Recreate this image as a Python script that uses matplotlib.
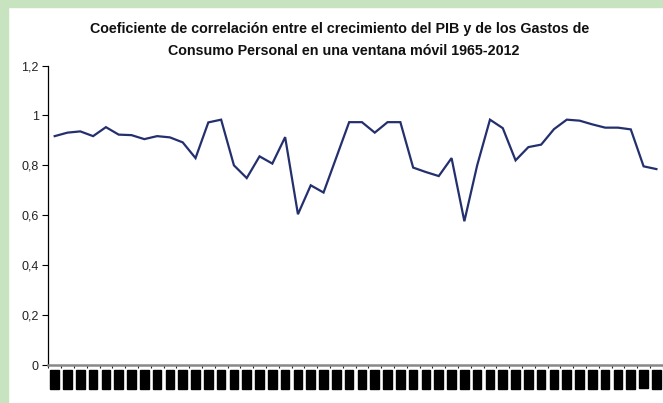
import numpy as np
import matplotlib.pyplot as plt
from matplotlib.patches import Rectangle

plt.rcParams['font.family'] = ['Liberation Sans', 'DejaVu Sans']

years = list(range(1965, 2013))
correlacion = [0.917, 0.931, 0.936, 0.917, 0.953, 0.923, 0.921, 0.905, 0.917, 0.912,
               0.892, 0.829, 0.972, 0.983, 0.800, 0.749, 0.836, 0.807, 0.913, 0.604,
               0.720, 0.691, 0.832, 0.973, 0.973, 0.931, 0.973, 0.973, 0.791, 0.773,
               0.757, 0.829, 0.576, 0.800, 0.983, 0.949, 0.820, 0.873, 0.883, 0.945,
               0.983, 0.979, 0.964, 0.951, 0.951, 0.944, 0.796, 0.785]
yticks = [0, 0.2, 0.4, 0.6, 0.8, 1.0, 1.2]
ytick_labels = ['0', '0,2', '0,4', '0,6', '0,8', '1', '1,2']
titulo_1 = 'Coeficiente de correlación entre el crecimiento del PIB y de los Gastos de'
titulo_2 = 'Consumo Personal en una ventana móvil 1965-2012'

fig = plt.figure(figsize=(6.63, 4.03), dpi=100)
fig.patch.set_facecolor('white')

# green frame on the left and top edges
verde = '#c8e3bf'
fig.patches.append(Rectangle((0, 0), 8 / 663, 1, transform=fig.transFigure, color=verde, zorder=0))
fig.patches.append(Rectangle((0, 1 - 7 / 403), 1, 7 / 403, transform=fig.transFigure, color=verde, zorder=0))

ax = fig.add_axes([48.3 / 663, 38 / 403, 614.5 / 663, 299.5 / 403])
x = np.arange(len(years))
ax.plot(x, correlacion, color='#24306e', linewidth=1.6, solid_joinstyle='miter')

ax.set_xlim(-0.5, len(years) - 0.5)
ax.set_ylim(0, 1.2)
ax.set_yticks(yticks)
ax.set_yticklabels(ytick_labels, fontsize=9, color='#222222')

ax.spines['top'].set_visible(False)
ax.spines['right'].set_visible(False)
ax.spines['left'].set_linewidth(0.9)
ax.spines['bottom'].set_color('#888888')
ax.spines['bottom'].set_linewidth(1.8)
ax.tick_params(axis='y', length=4, width=0.8, pad=3)

# tick marks between categories, year labels as filled blocks
ax.set_xticks(np.arange(len(years) + 1) - 0.5)
ax.set_xticklabels([])
ax.tick_params(axis='x', length=2.5, width=0.8, direction='out', color='#222222')
for xi, yr in zip(x, years):
    ax.text(xi, -0.018, str(yr), rotation=90, fontsize=5.8, color='k',
            family='Liberation Sans', ha='center', va='top',
            transform=ax.get_xaxis_transform(),
            bbox=dict(boxstyle='square,pad=0.1', fc='k', ec='k'))

fig.text(0.512, 1 - 33 / 403, titulo_1, ha='center', va='baseline', fontsize=10.3,
         fontweight='bold', color='#111111')
fig.text(0.518, 1 - 54.7 / 403, titulo_2, ha='center', va='baseline', fontsize=10.3,
         fontweight='bold', color='#111111')

fig.savefig('out.png', dpi=100, facecolor='white')
